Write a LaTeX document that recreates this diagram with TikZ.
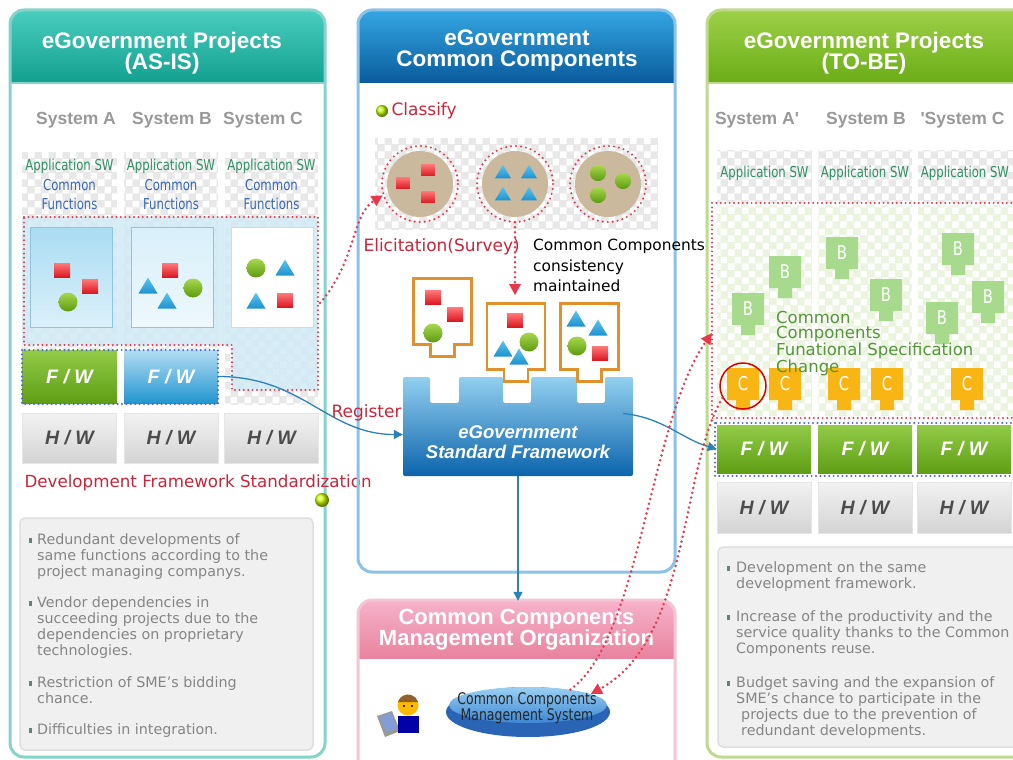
\documentclass[tikz,border=0pt]{standalone}
\usepackage{fontspec}
\setmainfont{DejaVu Sans}
\newfontfamily\headfont{Liberation Sans}
\newfontfamily\narrowfont[FakeStretch=0.78]{DejaVu Sans}
\usetikzlibrary{shapes.geometric, arrows.meta, patterns.meta}

% panel colours
\definecolor{asisline}{HTML}{84D4CC}
\definecolor{asistop}{HTML}{49CDBE}
\definecolor{asisbot}{HTML}{13A08F}
\definecolor{asisback}{HTML}{CFEAF6}
\definecolor{ccline}{HTML}{8CC2E7}
\definecolor{cctop}{HTML}{34A6E3}
\definecolor{ccbot}{HTML}{0A5B9C}
\definecolor{tobeline}{HTML}{BEDA8E}
\definecolor{tobetop}{HTML}{9DD047}
\definecolor{tobebot}{HTML}{6BAD17}
\definecolor{tobeback}{HTML}{EAF4DE}
\definecolor{orgline}{HTML}{F3C6D5}
\definecolor{orgtop}{HTML}{F6B3CA}
\definecolor{orgbot}{HTML}{E9839F}
% texts and lines
\definecolor{memored}{HTML}{C8263A}
\definecolor{dotred}{HTML}{E8394C}
\definecolor{dotblue}{HTML}{4A63E0}
\definecolor{arrowblue}{HTML}{2B82B8}
\definecolor{appgreen}{HTML}{2E9064}
\definecolor{fnblue}{HTML}{3A66B8}
\definecolor{specgreen}{HTML}{55963A}
% small parts
\definecolor{sqtop}{HTML}{FF7A7A}
\definecolor{sqbot}{HTML}{DD1822}
\definecolor{dottop}{HTML}{A8D84E}
\definecolor{dotbot}{HTML}{5C9A10}
\definecolor{tritop}{HTML}{5CC4EE}
\definecolor{tribot}{HTML}{1E92CE}
\definecolor{clustertan}{HTML}{CBB99D}
\definecolor{socketline}{HTML}{E0902C}
\definecolor{sfwtop}{HTML}{93CFEF}
\definecolor{sfwbot}{HTML}{0B64AC}
\definecolor{partB}{HTML}{A8DA8E}
\definecolor{partC}{HTML}{F8B514}
\definecolor{fwgtop}{HTML}{93CB48}
\definecolor{fwgbot}{HTML}{5E9E14}
\definecolor{fwbtop}{HTML}{B3DDF3}
\definecolor{fwbbot}{HTML}{2296D0}
\definecolor{swtop}{HTML}{A9DCF3}
\definecolor{swbot}{HTML}{DCF0F9}
\definecolor{swline}{HTML}{8CC6E2}
\definecolor{disktop}{HTML}{9BD0F2}
\definecolor{diskbot}{HTML}{3C86D2}
\definecolor{diskrim}{HTML}{2A64B4}

\tikzdeclarepattern{
  name=checks,
  type=uncolored,
  bottom left={(0pt,0pt)},
  top right={(14pt,14pt)},
  tile size={(14pt,14pt)},
  code={
    \fill (0pt,0pt) rectangle (7pt,7pt);
    \fill (7pt,7pt) rectangle (14pt,14pt);
  }
}

\tikzset{
  panel/.style={line width=3pt, rounded corners=14pt},
  title/.style={text=white, align=center, font=\headfont\fontsize{22.5}{21}\selectfont\bfseries},
  syslabel/.style={text=black!40, font=\headfont\fontsize{17.5}{18}\selectfont\bfseries},
  apptext/.style={text=appgreen, font=\narrowfont\fontsize{15}{16}\selectfont},
  fntext/.style={text=fnblue, align=center, font=\narrowfont\fontsize{15}{19}\selectfont},
  memo/.style={text=memored, font=\fontsize{17}{18}\selectfont},
  checker/.style={fill=black!9, postaction={pattern=checks, pattern color=white}},
  swbox/.style={minimum width=82pt, minimum height=100pt, inner sep=0pt, draw=swline, line width=.8pt},
  fwbox/.style={minimum width=95pt, minimum height=53pt, inner sep=0pt, text=white,
    font=\headfont\fontsize{19.5}{20}\selectfont\bfseries\itshape},
  hwbox/.style={minimum width=94pt, minimum height=50pt, inner sep=0pt, draw=black!10,
    top color=black!5, bottom color=black!17, text=black!70,
    font=\headfont\fontsize{19.5}{20}\selectfont\bfseries\itshape},
  zonedots/.style={draw=dotred, line width=2.2pt, line cap=round, dash pattern=on 0pt off 4.4pt},
  bluedots/.style={draw=dotblue, line width=2.2pt, line cap=round, dash pattern=on 0pt off 4.4pt},
  reddots/.style={draw=dotred, line width=2.8pt, line cap=round, dash pattern=on 0pt off 5pt},
  redtip/.style={-{Triangle[length=11pt, width=11pt]}},
  bluearrow/.style={draw=arrowblue, line width=1.3pt, -{Triangle[length=9pt, width=9pt]}},
  cluster/.style={circle, fill=clustertan, minimum size=66pt, inner sep=0pt},
  notebox/.style={fill=black!6, draw=black!13, line width=1.5pt, rounded corners=5pt},
  notetext/.style={anchor=north west, inner sep=0pt, align=left, text=black!48,
    font=\fontsize{14.3}{16}\selectfont},
  notemark/.style={fill=appgreen!45!gray},
  pics/rsq/.style={code={\shade[top color=sqtop, bottom color=sqbot] (-8,-7) rectangle (8,7);}},
  pics/gdot/.style={code={\shade[top color=dottop, bottom color=dotbot] (0,0) circle (9.5);}},
  pics/btri/.style={code={\shade[top color=tritop, bottom color=tribot] (-9.5,7.5) -- (9.5,7.5) -- (0,-8.5) -- cycle;}},
  pics/socket/.style={code={
    \draw[socketline, line width=2.2pt, fill=white]
      (-29,-33) -- (29,-33) -- (29,33) -- (12,33) -- (12,45) -- (-12,45) -- (-12,33) -- (-29,33) -- cycle;}},
  pics/part/.style 2 args={code={
    \fill[#2] (-16,-16) -- (16,-16) -- (16,16) -- (7,16) -- (7,26) -- (-7,26) -- (-7,16) -- (-16,16) -- cycle;
    \node[text=white, font=\narrowfont\fontsize{19}{19}\selectfont] at (0,0) {#1};}}
}

\begin{document}
\begin{tikzpicture}[x=1pt, y=-1pt]
\useasboundingbox (0,0) rectangle (1013,760);
\fill[white] (0,0) rectangle (1013,760);

%% ---- AS-IS projects ----
\begin{scope}
  \clip[rounded corners=14pt] (10,10) rectangle (325,757);
  \shade[top color=asistop, bottom color=asisbot] (10,10) rectangle (325,83);
\end{scope}
\draw[panel, draw=asisline] (10,10) rectangle (325,757);
\draw[asisline, line width=1.5pt] (10,83) -- (325,83);
\node[title] (asis) at (162,53) {eGovernment Projects\\(AS-IS)};

\node[syslabel] (sysA) at (76,120) {System A};
\node[syslabel] (sysB) at (172,120) {System B};
\node[syslabel] (sysC) at (263,120) {System C};

\foreach \xa/\xb in {22/117, 124/218, 225/318}
  \path[checker] (\xa,152) rectangle (\xb,405);
\fill[asisback, opacity=.8] (22,217) -- (318,217) -- (318,390) -- (232,390) -- (232,345) -- (22,345) -- cycle;

\foreach \x/\n in {69.5/A, 171/B, 271.5/C} {
  \node[apptext] (app\n) at (\x,166) {Application SW};
  \node[fntext] (fn\n) at (\x,195) {Common\\Functions};
}

\node[swbox, top color=swtop, bottom color=swbot] (swA) at (71,277) {};
\node[swbox, top color=swtop!45, bottom color=swbot!50] (swB) at (172.5,277) {};
\node[swbox, draw=black!15, fill=white] (swC) at (272.5,277) {};
\pic at (62,270) {rsq}; \pic at (90,286) {rsq}; \pic at (68,302) {gdot};
\pic at (170,270) {rsq}; \pic at (148,286) {btri}; \pic at (193,288) {gdot}; \pic at (167,301) {btri};
\pic at (256,268) {gdot}; \pic at (285,268) {btri}; \pic at (256,301) {btri}; \pic at (285,300) {rsq};

\draw[zonedots] (24,217) -- (318,217) -- (318,390) -- (232,390) -- (232,345) -- (24,345) -- cycle;
\coordinate (asisedge) at (320,303);

\node[fwbox, top color=fwgtop, bottom color=fwgbot] (fwA) at (69.5,376.5) {F\;/\;W};
\node[fwbox, minimum width=94pt, top color=fwbtop, bottom color=fwbbot] (fwB) at (171,376.5) {F\;/\;W};
\draw[bluedots] (22,350) rectangle (218,404);

\foreach \x/\n in {69.5/A, 171/B, 271.5/C}
  \node[hwbox] (hw\n) at (\x,438) {H\;/\;W};

\node[memo, anchor=west, font=\fontsize{16.7}{18}\selectfont] (dfs) at (21,483) {Development Framework Standardization};
\shade[ball color=yellow!80!green] (322,500) circle (7);

\draw[notebox] (20,518) rectangle (313,750);
\foreach \y/\n/\txt in {533/1/{Redundant developments of\\same functions according to the\\project managing companys.},
    596/2/{Vendor dependencies in\\succeeding projects due to the\\dependencies on proprietary\\technologies.},
    676/3/{Restriction of SME's bidding\\chance.},
    723/4/{Difficulties in integration.}} {
  \fill[notemark] (29,\y+5) rectangle (32,\y+10);
  \node[notetext] (asisnote\n) at (37,\y) {\txt};
}

%% ---- common components ----
\begin{scope}
  \clip[rounded corners=14pt] (358,10) rectangle (675,572);
  \shade[top color=cctop, bottom color=ccbot] (358,10) rectangle (675,83);
\end{scope}
\draw[panel, draw=ccline] (358,10) rectangle (675,572);
\node[title] (cc) at (517,50) {eGovernment\\Common Components};

\shade[ball color=yellow!75!green] (382,111) circle (6);
\node[memo, anchor=west] (classify) at (388,111) {Classify};

\path[checker] (375,138) rectangle (658,230);
\foreach \x/\n in {420/1, 515/2, 608/3} {
  \node[cluster] (cl\n) at (\x,184) {};
  \draw[reddots, line width=2.3pt] (cl\n.center) circle (38);
}
\foreach \x/\y in {403/183, 428/170, 428/197} \pic[scale=.85] at (\x,\y) {rsq};
\foreach \x/\y in {503/172, 529/172, 503/194, 529/194} \pic[scale=.85] at (\x,\y) {btri};
\foreach \x/\y in {598/173, 623/181, 598/195} \pic[scale=.85] at (\x,\y) {gdot};

\node[memo, anchor=west] (elicit) at (360,247) {Elicitation(Survey)};
\node[anchor=north west, align=left, inner sep=0pt, font=\fontsize{15.4}{20.5}\selectfont] (consist) at (533,239)
  {Common Components\\consistency\\maintained};

% eGovernment standard framework with its three slots
\shade[top color=sfwtop, bottom color=sfwbot, rounded corners=2pt]
  (403,377) -- (430,377) -- (430,403) -- (459,403) -- (459,377) -- (503,377) -- (503,403) -- (531,403)
  -- (531,377) -- (577,377) -- (577,403) -- (605,403) -- (605,377) -- (633,377) -- (633,476) -- (403,476) -- cycle;
\node[minimum width=230pt, minimum height=99pt, inner sep=0pt] (sfw) at (518,426.5) {};
\node[text=white, align=center, font=\headfont\fontsize{18.5}{20}\selectfont\bfseries\itshape] (sfwtext) at (518,442)
  {eGovernment\\Standard Framework};

\pic at (442.5,311.5) {socket};
\pic at (516,336.5) {socket};
\pic at (589.5,336.5) {socket};
\pic at (433,297) {rsq}; \pic at (455,314) {rsq}; \pic at (433,333) {gdot};
\pic at (515,320) {rsq}; \pic at (529,342) {gdot}; \pic at (503,349) {btri}; \pic at (519,357) {btri};
\pic at (576,319) {btri}; \pic at (598,328) {btri}; \pic at (577,346) {gdot}; \pic at (600,353) {rsq};

\node[memo, anchor=west] (register) at (328,413) {Register};

%% ---- management organization ----
\begin{scope}
  \clip[rounded corners=14pt] (358,600) rectangle (675,800);
  \fill[white] (358,600) rectangle (675,800);
  \shade[top color=orgtop, bottom color=orgbot] (358,600) rectangle (675,658);
\end{scope}
\draw[panel, draw=orgline] (358,600) rectangle (675,800);
\node[title, font=\headfont\fontsize{22}{21}\selectfont\bfseries, minimum height=58pt, inner sep=0pt] (ccmo) at (516.5,630)
  {Common Components\\Management Organization};

\node[ellipse, fill=diskrim, minimum width=164pt, minimum height=50pt, inner sep=0pt] (disk) at (528,712) {};
\node[ellipse, top color=disktop, bottom color=diskbot, minimum width=158pt, minimum height=36pt, inner sep=0pt] (ccms) at (528,705) {};
\node[font=\narrowfont\fontsize{16}{15}\selectfont, align=center, text=black!85] (ccmstext) at (527,708)
  {Common Components\\Management System};

% operator at a laptop
\fill[black!40] (377,716) -- (392,711) -- (400,731) -- (385,737) -- cycle;
\fill[cyan!40!blue!50] (380,717) -- (391,713) -- (397,728) -- (386,732) -- cycle;
\fill[blue!65!black] (398,716) rectangle (419,733);
\fill[orange!55!yellow] (408,705) circle (10.5);
\fill[brown!75!black] (398,702) arc[start angle=197, end angle=343, radius=10.5] -- cycle;
\fill[black] (404,706) circle (1.2) (412,706) circle (1.2);

%% ---- TO-BE projects ----
\begin{scope}
  \clip[rounded corners=14pt] (707,10) rectangle (1040,757);
  \shade[top color=tobetop, bottom color=tobebot] (707,10) rectangle (1040,83);
\end{scope}
\draw[panel, draw=tobeline] (707,10) rectangle (1040,757);
\draw[tobeline, line width=1.5pt] (707,83) -- (1040,83);
\node[title] (tobe) at (864,53) {eGovernment Projects\\(TO-BE)};

\node[syslabel] (sysA2) at (757,120) {System A'};
\node[syslabel] (sysB2) at (866,120) {System B};
\node[syslabel, anchor=west] (sysC2) at (917,120) {'System C};

\foreach \xa/\xb in {717/812, 818/912, 918/1030} {
  \path[checker] (\xa,150) rectangle (\xb,203);
  \fill[tobeback, postaction={pattern=checks, pattern color=white}] (\xa,205) rectangle (\xb,416);
}
\foreach \x/\n in {764.5/1, 865/2, 965/3}
  \node[apptext] (appR\n) at (\x,173) {Application SW};

\foreach \x/\y in {748/309, 785/272, 842/253, 886/295, 958/249, 988/297, 942/318}
  \pic at (\x,\y) {part={B}{partB}};
\foreach \x in {743, 785, 844, 887, 967}
  \pic at (\x,384) {part={C}{partC}};
\node[circle, draw=red!85!black, line width=1.5pt, minimum size=46pt, inner sep=0pt] (cmark) at (743,386) {};

\draw[zonedots] (1020,203) -- (712,203) -- (712,418) -- (1020,418);
\coordinate (tobeedge) at (712,333);

\node[anchor=north west, align=left, inner sep=0pt, text=specgreen, font=\fontsize{16.5}{15}\selectfont] (spec) at (776,311)
  {Common\\Components\\Funational Specification\\Change};

\foreach \x/\n in {764/1, 865/2, 964/3} {
  \node[fwbox, minimum width=94pt, minimum height=48pt, top color=fwgtop, bottom color=fwgbot] (fwR\n) at (\x,449) {F\;/\;W};
  \node[hwbox, minimum height=51pt] (hwR\n) at (\x,507.5) {H\;/\;W};
}
\draw[bluedots] (715,423) rectangle (1030,476);

\draw[notebox] (718,547) rectangle (1030,747);
\foreach \y/\n/\txt in {561/1/{Development on the same\\development framework.},
    610/2/{Increase of the productivity and the\\service quality thanks to the Common\\Components reuse.},
    676/3/{Budget saving and the expansion of\\SME's chance to participate in the\\\hspace{.35em}projects due to the prevention of\\\hspace{.35em}redundant developments.}} {
  \fill[notemark] (727,\y+5) rectangle (730,\y+10);
  \node[notetext] (tobenote\n) at (736,\y) {\txt};
}

%% ---- connectors ----
\draw[reddots, redtip] (asisedge) .. controls (356,262) and (352,214) .. ([xshift=-6pt]cl1.200);
\draw[reddots, redtip] ([yshift=-5pt]cl2.south) -- ++(0,73);
\draw[bluearrow] (fwB.east) .. controls +(85,0) and +(-75,0) .. ([yshift=-8pt]sfw.west);
\draw[bluearrow] ([xshift=-10pt, yshift=13pt]sfw.east) .. controls +(40,4) and +(-35,-10) .. (fwR1.west);
\draw[bluearrow] (sfw.south) -- (sfw.south |- ccmo.north);
\draw[reddots, redtip] (ccms.20) .. controls (640,640) and (650,420) .. (tobeedge);
\draw[reddots, redtip] (cmark.210) .. controls (680,470) and (690,640) .. (ccms.10);
\end{tikzpicture}
\end{document}
